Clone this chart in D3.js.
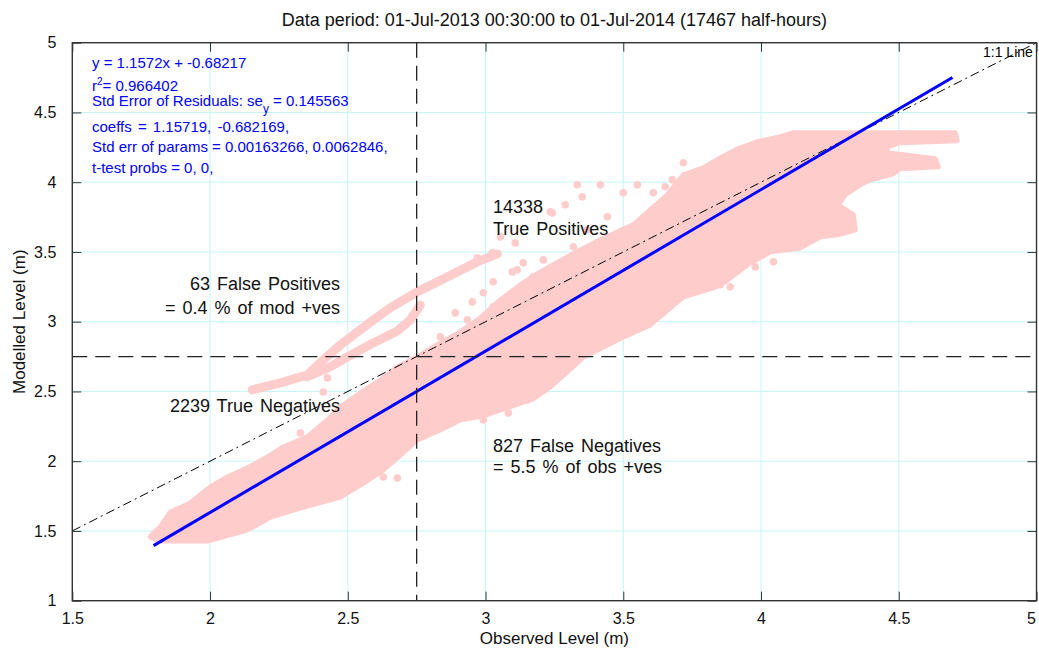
<!DOCTYPE html>
<html><head><meta charset="utf-8">
<script src="https://cdn.jsdelivr.net/npm/d3@7"></script>
<style>
body{margin:0;background:#fff}
svg{display:block}
text{font-family:"Liberation Sans",Arial,sans-serif}
</style>
</head><body>
<svg id="chart" width="1039" height="648"></svg>
<script>
// ---------- data ----------
const xTicks = [1.5, 2, 2.5, 3, 3.5, 4, 4.5, 5];
const yTicks = [1, 1.5, 2, 2.5, 3, 3.5, 4, 4.5, 5];
const threshold = 2.75;
const oneToOne = [1.5, 5];
const regObs = [1.795, 4.695];
const regMod = [1.395, 4.751];

// dense cloud outline [observed, modelled]
const mainCloud = [
 [1.794,1.485],[1.819,1.528],[1.856,1.636],[1.928,1.700],[2.001,1.815],[2.063,1.887],
 [2.135,1.951],[2.208,2.030],[2.266,2.102],[2.353,2.174],[2.426,2.296],[2.473,2.389],
 [2.545,2.489],[2.618,2.582],[2.680,2.676],[2.752,2.747],[2.836,2.848],[2.908,2.927],
 [2.981,3.027],[3.054,3.156],[3.126,3.264],[3.199,3.357],[3.297,3.465],[3.417,3.587],
 [3.536,3.694],[3.598,3.802],[3.660,3.910],[3.718,4.053],[3.790,4.103],[3.852,4.175],
 [3.925,4.247],[3.986,4.290],[4.070,4.326],[4.117,4.354],[4.705,4.354],[4.712,4.297],
 [4.505,4.283],[4.458,4.254],[4.458,4.211],[4.633,4.168],[4.643,4.110],[4.505,4.096],
 [4.480,4.060],[4.397,4.017],[4.360,3.981],[4.306,3.910],[4.280,3.838],[4.335,3.766],
 [4.342,3.659],[4.280,3.623],[4.215,3.608],[4.143,3.529],[4.034,3.501],[3.950,3.407],
 [3.870,3.286],[3.827,3.242],[3.718,3.178],[3.598,2.977],[3.478,2.869],[3.355,2.747],
 [3.297,2.640],[3.235,2.532],[3.173,2.446],[3.054,2.367],[2.992,2.324],[2.908,2.296],
 [2.836,2.224],[2.752,2.152],[2.691,2.044],[2.629,1.937],[2.545,1.829],[2.473,1.743],
 [2.328,1.664],[2.219,1.600],[2.135,1.506],[1.990,1.428],[1.819,1.428],[1.783,1.456]
];
// false-positive arm (two strands)
const armUpper = [
 [2.153,2.511],[2.255,2.561],[2.353,2.618],[2.411,2.726],[2.473,2.833],[2.535,2.927],
 [2.593,3.013],[2.654,3.099],[2.752,3.214],[2.861,3.321],[2.970,3.429],[3.043,3.486]
];
const armLower = [
 [2.353,2.604],[2.436,2.676],[2.498,2.747],[2.593,2.848],[2.680,2.934],[2.727,3.013],[2.763,3.120]
];
// isolated points
const scatterObs = [3.242,3.108,3.054,2.970,2.890,2.952,3.028,3.097,3.173,3.210,3.271,3.319,3.369,3.442,
 2.836,2.934,3.152,2.992,3.083,3.551,3.333,3.351,3.289,3.235,3.609,3.137,3.025,2.992,3.028,3.115,
 2.992,2.426,2.411,2.328,2.193,2.074,2.135,2.375,2.629,2.680,3.718,3.787,3.678,3.652,3.609,4.045,
 3.725,3.852,3.888,3.979,3.500,3.417];
const scatterMod = [3.780,3.565,3.608,3.458,3.063,3.142,3.286,3.357,3.321,3.443,3.250,3.537,3.659,3.752,
 2.891,3.013,2.439,2.296,2.346,3.981,3.981,3.895,3.838,3.788,3.788,3.422,3.494,3.443,3.106,3.372,
 3.207,2.597,2.496,2.202,1.578,1.485,1.528,1.700,1.887,1.879,4.139,4.075,4.017,3.967,3.924,3.429,
 3.192,3.264,3.250,3.393,3.924,3.981];

const titleText = "Data period: 01-Jul-2013 00:30:00 to 01-Jul-2014 (17467 half-hours)";

// ---------- layout ----------
const svg = d3.select("#chart");
const L = 72.3, R = 1036.5, T = 42.7, B = 600.7;
const x = d3.scaleLinear().domain([1.5, 5]).range([L, R]);
const y = d3.scaleLinear().domain([1, 5]).range([B, T]);
const pink = "#ffcccc";

svg.append("defs").append("clipPath").attr("id","plotclip")
  .append("rect").attr("x",L).attr("y",T).attr("width",R-L).attr("height",B-T);

// grid
const grid = svg.append("g").attr("stroke","#c4f6f6").attr("stroke-width",1);
xTicks.forEach(t => grid.append("line").attr("x1",x(t)).attr("x2",x(t)).attr("y1",T).attr("y2",B));
yTicks.forEach(t => grid.append("line").attr("x1",L).attr("x2",R).attr("y1",y(t)).attr("y2",y(t)));

const plot = svg.append("g").attr("clip-path","url(#plotclip)");

const line = d3.line().x(d=>x(d[0])).y(d=>y(d[1]));
// cloud
plot.append("path").attr("d", line.curve(d3.curveLinearClosed)(mainCloud))
  .attr("fill",pink).attr("stroke",pink).attr("stroke-width",5).attr("stroke-linejoin","round");
line.curve(d3.curveLinear);
[armUpper, armLower].forEach(a => plot.append("path").attr("d", line(a))
  .attr("fill","none").attr("stroke",pink).attr("stroke-width",9)
  .attr("stroke-linecap","round").attr("stroke-linejoin","round"));
plot.append("g").selectAll("circle").data(scatterObs).join("circle")
  .attr("cx",(d)=>x(d)).attr("cy",(d,i)=>y(scatterMod[i])).attr("r",3.8).attr("fill",pink);

// 1:1 line
plot.append("line").attr("x1",x(oneToOne[0])).attr("y1",y(oneToOne[0]))
  .attr("x2",x(oneToOne[1])).attr("y2",y(oneToOne[1]))
  .attr("stroke","#000").attr("stroke-width",1).attr("stroke-dasharray","9,4,2,4");

// regression line
plot.append("line").attr("x1",x(regObs[0])).attr("y1",y(regMod[0]))
  .attr("x2",x(regObs[1])).attr("y2",y(regMod[1]))
  .attr("stroke","#0000ff").attr("stroke-width",3);

// thresholds
plot.append("line").attr("x1",x(threshold)).attr("x2",x(threshold)).attr("y1",T).attr("y2",B)
  .attr("stroke","#222").attr("stroke-width",1.3).attr("stroke-dasharray","15,8");
plot.append("line").attr("x1",L).attr("x2",R).attr("y1",y(threshold)).attr("y2",y(threshold))
  .attr("stroke","#222").attr("stroke-width",1.3).attr("stroke-dasharray","15,8");

plot.append("text").attr("x",983).attr("y",57).attr("font-size",14).attr("fill","#000").text("1:1 Line");

// axes box with inward ticks
const axCol = "#333";
svg.append("g").attr("transform",`translate(0,${B})`)
  .call(d3.axisBottom(x).tickValues(xTicks).tickSizeInner(-9).tickSizeOuter(0).tickPadding(12).tickFormat(d3.format("")))
  .call(g=>{g.select(".domain").remove(); g.selectAll("line").attr("stroke",axCol);
    g.selectAll("text").attr("font-size",16).attr("fill","#111").attr("font-family","Liberation Sans, Arial");
    g.selectAll(".tick").filter(d=>d===5).select("text").attr("text-anchor","end").attr("dx",-1);});
svg.append("g").attr("transform",`translate(0,${T})`)
  .call(d3.axisTop(x).tickValues(xTicks).tickSizeInner(-9).tickSizeOuter(0).tickFormat(""))
  .call(g=>{g.select(".domain").remove(); g.selectAll("line").attr("stroke",axCol);});
svg.append("g").attr("transform",`translate(${L},0)`)
  .call(d3.axisLeft(y).tickValues(yTicks).tickSizeInner(-9).tickSizeOuter(0).tickPadding(16).tickFormat(d3.format("")))
  .call(g=>{g.select(".domain").remove(); g.selectAll("line").attr("stroke",axCol);
    g.selectAll("text").attr("font-size",16).attr("fill","#111").attr("font-family","Liberation Sans, Arial");});
svg.append("g").attr("transform",`translate(${R},0)`)
  .call(d3.axisRight(y).tickValues(yTicks).tickSizeInner(-9).tickSizeOuter(0).tickFormat(""))
  .call(g=>{g.select(".domain").remove(); g.selectAll("line").attr("stroke",axCol);});
svg.append("rect").attr("x",L).attr("y",T).attr("width",R-L).attr("height",B-T)
  .attr("fill","none").attr("stroke",axCol).attr("stroke-width",1.4);

// titles
svg.append("text").attr("x",(L+R)/2).attr("y",26).attr("text-anchor","middle")
  .attr("font-size",18).attr("fill","#111").text(titleText);
svg.append("text").attr("x",(L+R)/2).attr("y",644).attr("text-anchor","middle")
  .attr("font-size",17).attr("fill","#111").text("Observed Level (m)");
svg.append("text").attr("transform",`translate(25,${(T+B)/2}) rotate(-90)`).attr("text-anchor","middle")
  .attr("font-size",17).attr("fill","#111").text("Modelled Level (m)");

// blue statistics text
const stats = svg.append("g").attr("fill","#0000ff").attr("font-size",15);
stats.append("text").attr("x",92).attr("y",68).text("y = 1.1572x  + -0.68217");
const r2 = stats.append("text").attr("x",92).attr("y",91);
r2.append("tspan").text("r");
r2.append("tspan").attr("dy",-6).attr("font-size",10).text("2");
r2.append("tspan").attr("dy",6).text("= 0.966402");
const se = stats.append("text").attr("x",92).attr("y",106);
se.append("tspan").text("Std Error of Residuals: se");
se.append("tspan").attr("dy",7).attr("font-size",12).text("y");
se.append("tspan").attr("dy",-7).text(" = 0.145563");
stats.append("text").attr("x",92).attr("y",132).attr("word-spacing",2).text("coeffs = 1.15719, -0.682169,");
stats.append("text").attr("x",92).attr("y",152).text("Std err of params = 0.00163266, 0.0062846,");
stats.append("text").attr("x",92).attr("y",173).text("t-test probs = 0, 0,");

// quadrant annotations
const ann = svg.append("g").attr("font-size",18).attr("fill","#111").attr("word-spacing",2);
ann.append("text").attr("x",340).attr("y",289.5).attr("text-anchor","end").text("63 False Positives");
ann.append("text").attr("x",340).attr("y",313.5).attr("text-anchor","end").text("= 0.4 % of mod +ves");
ann.append("text").attr("x",340).attr("y",411.5).attr("text-anchor","end").text("2239 True Negatives");
ann.append("text").attr("x",493).attr("y",213).text("14338");
ann.append("text").attr("x",493).attr("y",234.5).text("True Positives");
ann.append("text").attr("x",493).attr("y",451.5).text("827 False Negatives");
ann.append("text").attr("x",493).attr("y",473).text("= 5.5 % of obs +ves");
</script>
</body></html>
